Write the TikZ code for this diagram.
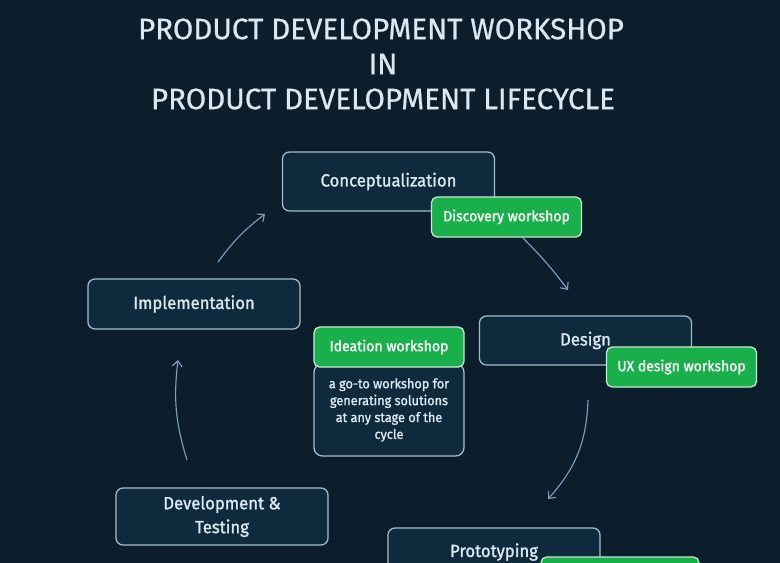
\documentclass[tikz,border=0pt]{standalone}
\usepackage{fontspec}
\setmainfont{Fira Sans}
\newfontfamily\labelfont{Fira Sans}[FakeBold=1.4,FakeStretch=0.95]
\newfontfamily\titlefont{Fira Sans}[FakeBold=0.6]
\usetikzlibrary{arrows.meta}
\definecolor{bgnavy}{HTML}{0C1E2C}
\definecolor{boxfill}{HTML}{0F2A3C}
\definecolor{boxline}{HTML}{A3BCCB}
\definecolor{txtlight}{HTML}{DCE8F1}
\definecolor{wsgreen}{HTML}{19B04B}
\definecolor{wsline}{HTML}{C9E8D2}
\definecolor{cycarrow}{HTML}{7BA0BE}
\begin{document}
\begin{tikzpicture}[x=0.025cm,y=-0.025cm,
    heading/.style={text=txtlight,font=\titlefont\fontsize{21}{25}\selectfont},
    stage/.style={draw=boxline,fill=boxfill,line width=0.9pt,rounded corners=5pt,
      text=txtlight,font=\labelfont\fontsize{12.5}{17}\selectfont,align=center,
      minimum width=5.3cm,inner sep=0pt},
    workshop/.style={draw=wsline,fill=wsgreen,line width=0.9pt,rounded corners=4pt,
      text=white,font=\labelfont\fontsize{10.5}{13}\selectfont,
      minimum width=3.75cm,minimum height=1cm,inner sep=0pt},
    note/.style={draw=boxline,fill=boxfill,line width=0.9pt,rounded corners=6pt,
      text=txtlight,font=\labelfont\fontsize{9.5}{12}\selectfont,align=center,
      minimum width=3.75cm,minimum height=2.3cm,inner sep=0pt},
    cyc/.style={draw=cycarrow,line width=0.8pt,-{Straight Barb[length=4pt,width=7pt]}}]
  \fill[bgnavy] (0,0) rectangle (780,563);
  \clip (0,0) rectangle (780,563);

  % title
  \node[heading] (title1) at (381,29) {PRODUCT DEVELOPMENT WORKSHOP};
  \node[heading] (title2) at (383,64) {IN};
  \node[heading] (title3) at (383,99) {PRODUCT DEVELOPMENT LIFECYCLE};

  % lifecycle stages
  \node[stage,minimum height=1.475cm] (concept) at (388.5,181.5) {Conceptualization};
  \node[stage,minimum height=1.225cm] (design) at (585.5,340.5) {Design};
  \node[stage,minimum height=1.2cm] (proto) at (494,552) {Prototyping};
  \node[stage,minimum height=1.425cm] (devtest) at (222,516.5) {Development \&\\Testing};
  \node[stage,minimum height=1.25cm] (impl) at (194,304) {Implementation};

  % workshops
  \node[workshop] (discovery) at (506.5,217) {Discovery workshop};
  \node[workshop] (uxdesign) at (681.5,367) {UX design workshop};
  \node[workshop,minimum width=3.95cm] (protows) at (620,577) {};
  \node[note] (ideanote) at (389,410) {a go-to workshop for\\generating solutions\\at any stage of the\\cycle};
  \node[workshop] (ideation) at (389,347) {Ideation workshop};

  % cycle arrows
  \coordinate (a1) at (218,262); \coordinate (b1) at (265,214);
  \coordinate (a2) at (523,238); \coordinate (b2) at (568,290);
  \coordinate (a3) at (588,400); \coordinate (b3) at (548,499);
  \coordinate (a4) at (187,460); \coordinate (b4) at (178,360);
  \draw[cyc] (a1) to[bend left=8] (b1);
  \draw[cyc] (a2) to[bend left=4] (b2);
  \draw[cyc] (a3) to[bend left=20] (b3);
  \draw[cyc] (a4) to[bend left=12] (b4);
\end{tikzpicture}
\end{document}
